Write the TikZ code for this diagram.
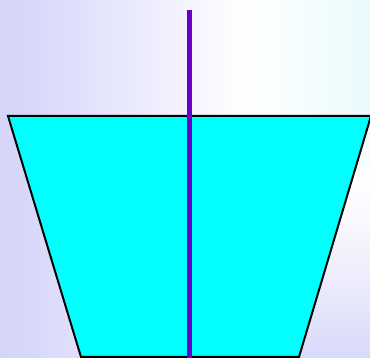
\documentclass[tikz,border=0pt]{standalone}
\usepackage{tikz}

\definecolor{lavender}{RGB}{213,213,250}
\definecolor{icecyan}{RGB}{234,250,252}
\definecolor{water}{RGB}{0,255,255}
\definecolor{stirpurple}{RGB}{102,0,204}

\pgfdeclarehorizontalshading{backdrop}{100bp}{%
  color(0bp)=(lavender); color(25bp)=(lavender); color(30bp)=(lavender!92!white);
  color(58bp)=(white); color(75bp)=(icecyan); color(100bp)=(icecyan)}
\pgfdeclareverticalshading{lowglow}{100bp}{%
  color(0bp)=(lavender!90!white); color(25bp)=(lavender!90!white);
  color(43bp)=(lavender!40!white); color(61bp)=(white);
  color(75bp)=(icecyan); color(100bp)=(icecyan)}

\tikzset{
  basin/.style={fill=water, draw=black, line width=0.04cm, line join=miter},
  rod/.style={draw=stirpurple, line width=0.1cm},
}

\begin{document}
\begin{tikzpicture}[x=0.02cm, y=-0.02cm]
  % background
  \shade[shading=backdrop] (0,0) rectangle (370,358);
  \shade[shading=lowglow] (290,116) rectangle (370,358);
  \useasboundingbox (0,0) rectangle (370,358);

  % the tub
  \coordinate (tl) at (8,116);
  \coordinate (tr) at (371,116);
  \coordinate (br) at (299,357);
  \coordinate (bl) at (81,357);
  \draw[basin] (tl) -- (tr) -- (br) -- (bl) -- cycle;

  % the stick
  \coordinate (top) at (189.5,10);
  \coordinate (bot) at (189.5,358);
  \draw[rod] (top) -- (bot);
\end{tikzpicture}
\end{document}
